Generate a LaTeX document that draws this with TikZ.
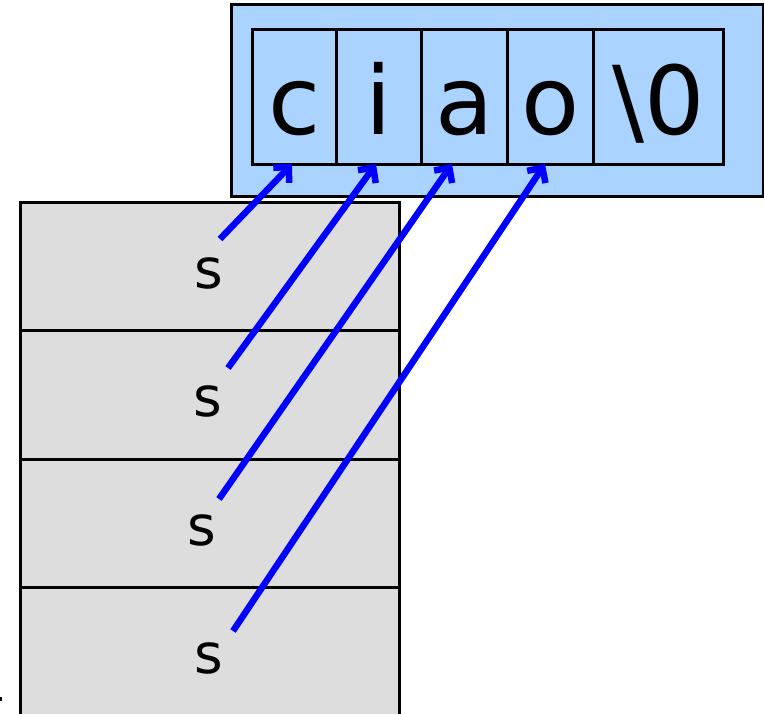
\documentclass[tikz,border=0pt]{standalone}
\usepackage{fontspec}
\setmainfont{DejaVu Sans}
\usetikzlibrary{arrows.meta}
\definecolor{cellblue}{RGB}{170,212,255}
\definecolor{stackgray}{RGB}{221,221,221}
\definecolor{ptrblue}{RGB}{0,0,255}
\begin{document}
\begin{tikzpicture}[x=1pt,y=-1pt,
  frame/.style={draw=black, line width=3pt},
  cellbox/.style={frame, fill=cellblue, minimum height=135pt, inner sep=0pt,
    text height=75pt, text depth=0pt, anchor=north west,
    font=\fontsize{95}{95}\selectfont},
  rowbox/.style={frame, fill=stackgray},
  varname/.style={inner sep=0pt, anchor=base, font=\fontsize{55}{55}\selectfont},
  pointer/.style={draw=ptrblue, line width=6.5pt,
    -{Straight Barb[length=11pt,width=22pt,line width=6.5pt]}}]
\useasboundingbox (0,0) rectangle (764,714);

% string buffer holding the characters
\draw[frame, fill=cellblue] (231,5) rectangle (763,197);
\node[cellbox, minimum width=84pt]  (c)   at (251,28) {c};
\node[cellbox, minimum width=85pt]  (i)   at (335,28) {i};
\node[cellbox, minimum width=86pt]  (a)   at (420,28) {a};
\node[cellbox, minimum width=86pt]  (o)   at (506,28) {o};
\node[cellbox, minimum width=130pt] (nul) at (592,28) {\textbackslash 0};

% stack of frames, each with its own s
\begin{scope}
\clip (0,0) rectangle (764,714);
\draw[rowbox] (20,203) rectangle (399,331);
\draw[rowbox] (20,331) rectangle (399,459);
\draw[rowbox] (20,459) rectangle (399,587);
\draw[rowbox] (20,587) rectangle (399,724);
\end{scope}
\fill (0,697) rectangle (2,701);

\node[varname] (s1) at (209,289) {s};
\node[varname] (s2) at (208,417) {s};
\node[varname] (s3) at (202,545) {s};
\node[varname] (s4) at (209,673) {s};

% pointer tails just above each s, heads on the cell bottoms
\coordinate (t1) at (220,239);
\coordinate (t2) at (228,368);
\coordinate (t3) at (219,499);
\coordinate (t4) at (233,631);
\coordinate (h1) at (c.south -| 292,0);
\coordinate (h2) at (i.south -| 376,0);
\coordinate (h3) at (a.south -| 452,0);
\coordinate (h4) at (o.south -| 545,0);

\draw[pointer] (t1) -- ([yshift=2pt]h1);
\draw[pointer] (t2) -- ([yshift=2pt]h2);
\draw[pointer] (t3) -- ([yshift=2pt]h3);
\draw[pointer] (t4) -- ([yshift=2pt]h4);
\end{tikzpicture}
\end{document}
